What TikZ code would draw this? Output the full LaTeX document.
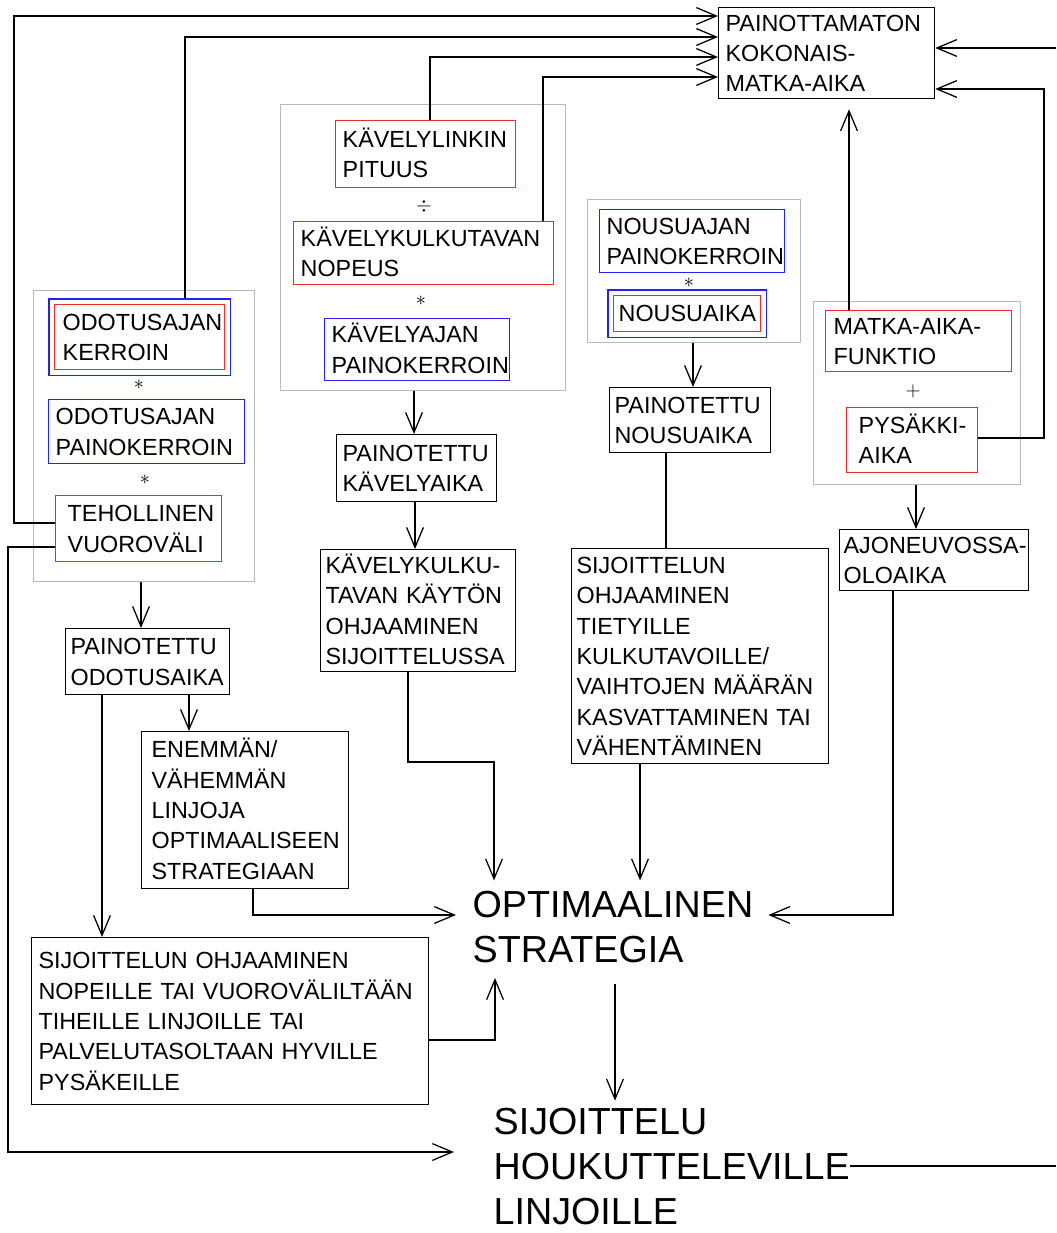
\documentclass[tikz,border=0pt]{standalone}
\usepackage{fontspec}
\setmainfont{Liberation Sans}
\usetikzlibrary{arrows.meta,fit}

\definecolor{boxred}{RGB}{245,40,40}
\definecolor{boxblue}{RGB}{35,35,245}
\definecolor{groupgray}{RGB}{185,185,185}

\newcommand{\px}{0.025cm}
\newcommand{\txtsmall}{\fontsize{16.6pt}{21.6pt}\selectfont}
\newcommand{\txtbig}{\fontsize{26.8pt}{32pt}\selectfont}

\begin{document}
\begin{tikzpicture}[x=0.025cm,y=-0.025cm,line width=0.9pt,
  box/.style n args={3}{draw,anchor=north west,font=\txtsmall,align=left,
    minimum width=#1*\px,minimum height=#2*\px,
    /utils/exec={\pgfmathsetlengthmacro\boxtw{(#1-2*#3)*\px}},
    text width=\boxtw,inner xsep=#3*\px,inner ysep=0pt,text height=11.9pt},
  main box/.style n args={3}{box={#1}{#2}{#3},draw=black},
  red box/.style n args={3}{box={#1}{#2}{#3},draw=boxred,line width=1pt},
  blue box/.style n args={3}{box={#1}{#2}{#3},draw=boxblue,line width=1pt},
  blue frame/.style={draw=boxblue,line width=1pt,inner sep=0.125cm},
  group box/.style 2 args={draw=groupgray,anchor=north west,line width=1pt,
    minimum width=#1*\px,minimum height=#2*\px,inner sep=0pt},
  op/.style={inner sep=0pt,font=\fontsize{14pt}{14pt}\selectfont},
  big text/.style={anchor=base west,inner sep=0pt,align=left,font=\txtbig},
  arr/.style={-{Straight Barb[length=0.5cm,width=0.42cm]}}]

  \useasboundingbox (0,0) rectangle (1056,1233);

  % group frames
  \node[group box={221}{291}] (g1) at (33,290) {};
  \node[group box={285}{286}] (g2) at (280,104) {};
  \node[group box={213}{143}] (g3) at (587,199) {};
  \node[group box={207}{183}] (g4) at (813,301) {};

  % result box at the top
  \node[main box={216}{91}{7}] (top) at (718,7) {PAINOTTAMATON\\KOKONAIS-\\MATKA-AIKA};

  % waiting time
  \node[red box={170}{65}{8}] (oker) at (54,304) {ODOTUSAJAN\\KERROIN};
  \node[blue frame,fit=(oker)] (okerb) {};
  \node[op] (s1) at (139,385) {$\ast$};
  \node[blue box={196}{64}{7}] (opk) at (48,399) {ODOTUSAJAN\\PAINOKERROIN};
  \node[op] (s2) at (145,480) {$\ast$};
  \node[red box={166}{66}{12}] (tehol) at (55,495) {TEHOLLINEN\\VUOROVÄLI};
  \node[main box={164}{66}{5}] (podota) at (65,628) {PAINOTETTU\\ODOTUSAIKA};
  \node[main box={207}{157}{10}] (enemman) at (141,731) {ENEMMÄN/\\VÄHEMMÄN\\LINJOJA\\OPTIMAALISEEN\\STRATEGIAAN};
  \node[main box={397}{167}{7}] (sijoA) at (31,937) {SIJOITTELUN OHJAAMINEN\\NOPEILLE TAI VUOROVÄLILTÄÄN\\TIHEILLE LINJOILLE TAI\\PALVELUTASOLTAAN HYVILLE\\PYSÄKEILLE};

  % walking time
  \node[red box={180}{67}{7}] (klink) at (335,120) {KÄVELYLINKIN\\PITUUS};
  \node[op] (div) at (424,206) {$\div$};
  \node[red box={260}{63}{7}] (kkulku) at (293,221) {KÄVELYKULKUTAVAN\\NOPEUS};
  \node[op] (s3) at (421,301) {$\ast$};
  \node[blue box={185}{62}{7}] (kpk) at (324,318) {KÄVELYAJAN\\PAINOKERROIN};
  \node[main box={160}{67}{6}] (pkav) at (336,434) {PAINOTETTU\\KÄVELYAIKA};
  \node[main box={195}{122}{5}] (kkp) at (320,549) {KÄVELYKULKU-\\TAVAN KÄYTÖN\\OHJAAMINEN\\SIJOITTELUSSA};

  % boarding time
  \node[blue box={185}{63}{7}] (npk) at (599,209) {NOUSUAJAN\\PAINOKERROIN};
  \node[op] (s4) at (689,283) {$\ast$};
  \node[red box={147}{36}{5},align=center] (nousu) at (613,295) {NOUSUAIKA};
  \node[blue frame,fit=(nousu)] (nousub) {};
  \node[main box={161}{65}{5}] (pnous) at (609,387) {PAINOTETTU\\NOUSUAIKA};
  \node[main box={257}{215}{5}] (sijoB) at (571,548) {SIJOITTELUN\\OHJAAMINEN\\TIETYILLE\\KULKUTAVOILLE/\\VAIHTOJEN MÄÄRÄN\\KASVATTAMINEN TAI\\VÄHENTÄMINEN};

  % in-vehicle time
  \node[red box={186}{61}{8}] (mfun) at (825,310) {MATKA-AIKA-\\FUNKTIO};
  \node[op] (plus) at (913,391) {$+$};
  \node[red box={131}{65}{12}] (pys) at (846,407) {\mbox{PYSÄKKI-}\\AIKA};
  \node[main box={189}{61}{4}] (ajon) at (839,529) {\mbox{AJONEUVOSSA-}\\OLOAIKA};

  % strategy and assignment
  \node[big text,text width=7.375cm] (opt) at (472,917) {OPTIMAALINEN\\STRATEGIA};
  \node[big text,text width=8.9cm] (sijo) at (493,1134) {SIJOITTELU\\HOUKUTTELEVILLE\\LINJOILLE};

  \coordinate (inR) at (1056,48);
  \coordinate (outR) at (1056,1166);

  % connectors
  \draw[arr] (tehol.west |- 0,523) -| (14,16) -- (top.west |- 0,16);
  \draw[arr] (okerb.north -| 185,0) |- (top.west |- 0,37);
  \draw[arr] (klink.north -| 430,0) |- (top.west |- 0,57);
  \draw[arr] (kkulku.north -| 543,0) |- (top.west |- 0,77);
  \draw[arr,shorten >=0.25cm] (mfun.north -| 849,0) -- (top.south -| 849,0);
  \draw[arr] (pys.east |- 0,438) -| (1044,89) -- (top.east |- 0,89);
  \draw[arr] (inR) -- (top.east |- 0,48);
  \draw[arr,shorten >=0.975cm] (tehol.west |- 0,547) -| (8,1152) -- (sijo.west |- 0,1152);

  \draw[arr] (g1.south -| 141,0) -- (podota.north -| 141,0);
  \draw[arr] (podota.south -| 102,0) -- (sijoA.north -| 102,0);
  \draw[arr] (podota.south -| 189,0) -- (enemman.north -| 189,0);
  \draw[arr,shorten >=0.4cm] (enemman.south -| 253,0) |- (opt.west |- 0,915);
  \draw[arr,shorten >=0.375cm] (sijoA.east |- 0,1040) -| (opt.south -| 495,0);

  \draw[arr] (g2.south -| 414,0) -- (pkav.north -| 414,0);
  \draw[arr] (pkav.south -| 415,0) -- (kkp.north -| 415,0);
  \draw[arr,shorten >=0.24cm] (kkp.south -| 408,0) |- (494,762) -- (opt.north -| 494,0);

  \draw[arr] (g3.south -| 693,0) -- (pnous.north -| 693,0);
  \draw (pnous.south -| 666,0) -- (sijoB.north -| 666,0);
  \draw[arr,shorten >=0.24cm] (sijoB.south -| 640,0) -- (opt.north -| 640,0);

  \draw[arr] (g4.south -| 916,0) -- (ajon.north -| 916,0);
  \draw[arr] (ajon.south -| 893,0) |- (opt.east |- 0,915);

  \draw[arr,shorten <=0.525cm,shorten >=0.16cm] (opt.south -| 615,0) -- (sijo.north -| 615,0);
  \draw (sijo.east |- 0,1166) -- (outR);
\end{tikzpicture}
\end{document}
